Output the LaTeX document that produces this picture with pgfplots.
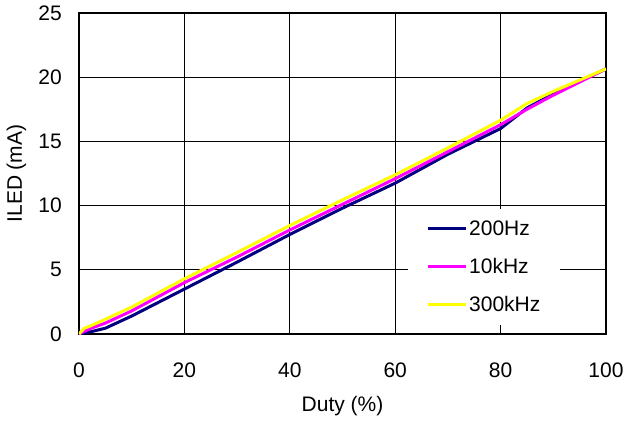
\documentclass[border=0pt]{standalone}
\usepackage{pgfplots}
\pgfplotsset{compat=1.18}
\usepackage{fontspec}
\setmainfont{Liberation Sans}
\definecolor{navyc}{RGB}{0,0,128}
\definecolor{magc}{RGB}{255,0,255}
\definecolor{yelc}{RGB}{255,255,0}
\begin{document}
\begin{tikzpicture}
\begin{axis}[
  scale only axis,
  width=527pt, height=321pt,
  xmin=0, xmax=100, ymin=0, ymax=25,
  xtick={0,20,...,100}, ytick={0,5,...,25},
  grid=major,
  grid style={black, line width=1pt},
  axis line style={black, line width=1.4pt},
  major tick length=0pt,
  xtick pos=bottom, ytick pos=left,
  /pgf/number format/assume math mode=true,
  ticklabel style={font=\fontsize{21}{24}\selectfont, inner sep=0pt},
  xticklabel style={anchor=base, yshift=-43pt},
  yticklabel style={anchor=east, xshift=-17pt},
  every axis x label/.style={at={(rel axis cs:0.5,0)}, anchor=center, yshift=-72pt},
  every axis y label/.style={at={(rel axis cs:0,0.5)}, anchor=center, rotate=90, yshift=62.5pt},
  label style={font=\fontsize{21}{24}\selectfont},
  xlabel={Duty (\%)}, ylabel={ILED (mA)},
  legend style={at={(rel axis cs:0.6243,0.028)}, anchor=south west, draw=none, fill=white,
    font=\fontsize{21}{24}\selectfont, row sep=17.5pt, inner xsep=18pt, inner ysep=9.5pt},
  legend cell align=left,
  legend image code/.code={\draw[#1, line width=3pt] (0pt,0pt) -- (38pt,0pt);},
]
\addplot[navyc, line width=3pt] coordinates {(0,0) (2,0.15) (5,0.45) (10,1.4) (20,3.5) (30,5.6) (40,7.75) (50,9.8) (60,11.75) (70,14.0) (80,16.0) (85,17.6) (90,18.7) (100,20.65)};
\addlegendentry{200Hz}
\addplot[magc, line width=3pt] coordinates {(0,0) (2,0.4) (5,0.85) (10,1.8) (20,4.0) (30,6.0) (40,8.1) (50,10.1) (60,12.1) (70,14.2) (80,16.3) (85,17.5) (90,18.6) (100,20.65)};
\addlegendentry{10kHz}
\addplot[yelc, line width=3pt] coordinates {(0,0) (1,0.45) (2,0.6) (5,1.15) (10,2.1) (20,4.3) (30,6.35) (40,8.45) (50,10.45) (60,12.4) (70,14.5) (80,16.65) (85,17.95) (90,18.9) (100,20.65)};
\addlegendentry{300kHz}
\end{axis}
\path (current axis.south west)+(-79pt,-89pt);
\path (current axis.north east)+(19pt,13pt);
\end{tikzpicture}
\end{document}
